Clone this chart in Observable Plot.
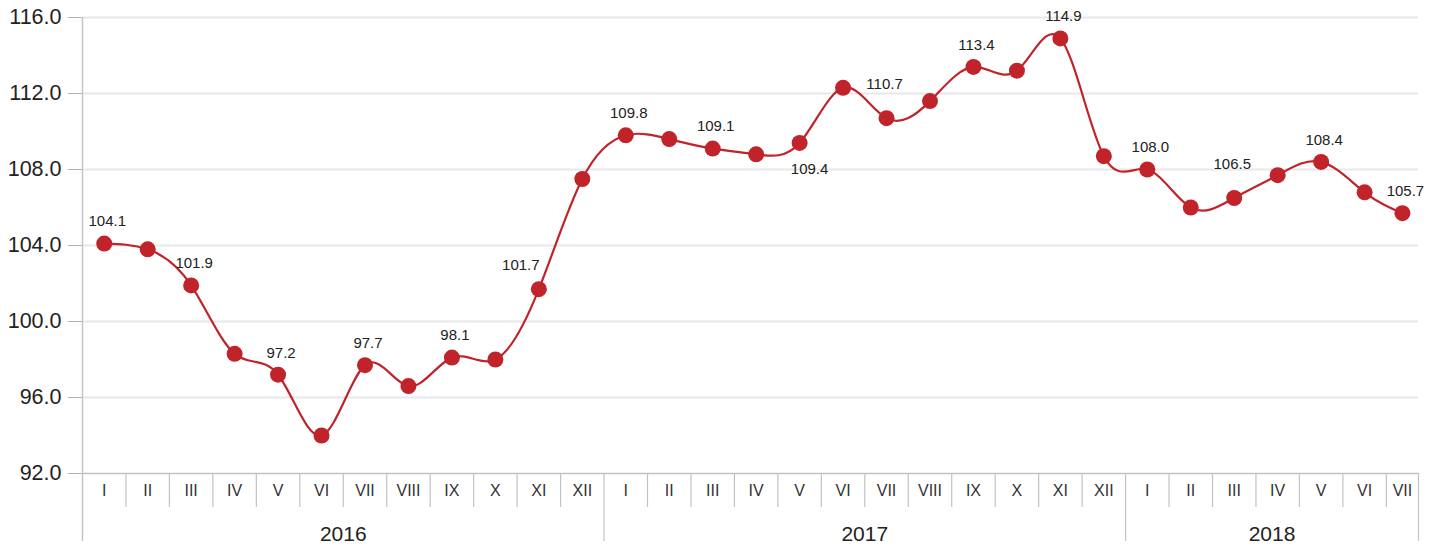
<!DOCTYPE html>
<html>
<head>
<meta charset="utf-8">
<script src="https://cdn.jsdelivr.net/npm/d3@7"></script>
<script src="https://cdn.jsdelivr.net/npm/@observablehq/plot@0.6"></script>
<style>
  html, body { margin: 0; padding: 0; background: #fff; }
  #chart svg { display: block; }
</style>
</head>
<body>
<div id="chart"></div>
<script>
// ---- data ----
const years = ["2016", "2017", "2018"];
const monthNames = ["I", "II", "III", "IV", "V", "VI", "VII", "VIII", "IX", "X", "XI", "XII"];
const values2016 = [104.1, 103.8, 101.9, 98.3, 97.2, 94.0, 97.7, 96.6, 98.1, 98.0, 101.7, 107.5];
const values2017 = [109.8, 109.6, 109.1, 108.8, 109.4, 112.3, 110.7, 111.6, 113.4, 113.2, 114.9, 108.7];
const values2018 = [108.0, 106.0, 106.5, 107.7, 108.4, 106.8, 105.7];
// which points carry a value label, and where it sits
const labels2016 = ["top", null, "top", null, "top", null, "top", null, "top", null, "left", null];
const labels2017 = ["top", null, "top", null, "below", null, "high", null, "top", null, "top", null];
const labels2018 = ["top", null, "high", null, "top", null, "top"];
const yTicks = [92, 96, 100, 104, 108, 112, 116];
const visibleSlots = 30.74; // the last month cell is cut off at the right edge

// ---- build table ----
const seriesByYear = [values2016, values2017, values2018];
const labelsByYear = [labels2016, labels2017, labels2018];
const rows = [];
const yearSegs = [];
let slot = 0;
seriesByYear.forEach((vals, yi) => {
  const start = slot;
  vals.forEach((v, mi) => {
    const x0 = slot, x1 = Math.min(slot + 1, visibleSlots);
    rows.push({year: years[yi], month: monthNames[mi], value: v, x0, x1, xc: (x0 + x1) / 2, place: labelsByYear[yi][mi]});
    slot++;
  });
  yearSegs.push({year: years[yi], start, end: Math.min(slot, visibleSlots)});
});
const monthDividers = rows.filter((r, i) => i > 0 && r.month !== "I").map(r => r.x0);
const yearDividers = yearSegs.map(s => s.end);

const red = "#c1232b";
const gridColor = "#e8e8e8";
const axisColor = "#c2c2c2";
const textColor = "#222";
const fontFamily = "'Liberation Sans', Arial, Helvetica, sans-serif";

const labelStyles = {
  top:   {dx: 3,   dy: -22},
  high:  {dx: -2,  dy: -34},
  left:  {dx: -18, dy: -24},
  below: {dx: 10,  dy: 26}
};

const labelMarks = Object.entries(labelStyles).map(([p, s]) =>
  Plot.text(rows.filter(r => r.place === p), {
    x: "xc", y: "value", text: d => d.value.toFixed(1),
    dx: s.dx, dy: s.dy, fontSize: 15, fill: textColor
  })
);

const chart = Plot.plot({
  width: 1444,
  height: 546,
  marginLeft: 82,
  marginRight: 26,
  marginTop: 17,
  marginBottom: 73,
  style: {fontFamily, background: "#fff", overflow: "visible"},
  x: {domain: [0, visibleSlots], axis: null},
  y: {domain: [92, 116], axis: null},
  marks: [
    Plot.ruleY(yTicks.filter(d => d > 92), {stroke: gridColor, strokeWidth: 2}),
    Plot.axisY({ticks: yTicks, tickSize: 14, tickPadding: 7, fontSize: 21.5,
      tickFormat: d => d.toFixed(1), stroke: "#b3b3b3", fill: textColor, label: null}),
    Plot.ruleY([92], {stroke: axisColor, strokeWidth: 1.6}),
    Plot.ruleX([0], {y1: () => 116, y2: () => 92, insetBottom: -68, stroke: axisColor, strokeWidth: 1.4}),
    Plot.ruleX(monthDividers, {y1: () => 92, y2: () => 92, insetBottom: -34, stroke: axisColor, strokeWidth: 1.2}),
    Plot.ruleX(yearDividers, {y1: () => 92, y2: () => 92, insetBottom: -68, stroke: axisColor, strokeWidth: 1.2}),
    Plot.text(rows, {x: "xc", y: () => 92, text: "month", dy: 17, fontSize: 16, fill: "#333"}),
    Plot.text(yearSegs, {x: d => (d.start + d.end) / 2, y: () => 92, text: "year", dy: 61, fontSize: 21, fill: textColor}),
    Plot.line(rows, {x: "xc", y: "value", curve: "natural", stroke: red, strokeWidth: 2.2}),
    Plot.dot(rows, {x: "xc", y: "value", r: 8, fill: red}),
    ...labelMarks
  ]
});
document.getElementById("chart").appendChild(chart);
</script>
</body>
</html>
